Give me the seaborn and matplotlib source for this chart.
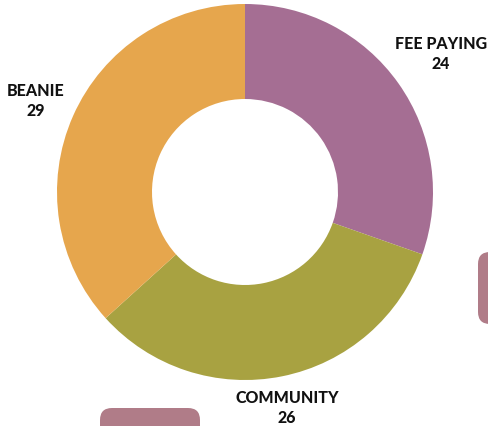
import matplotlib
matplotlib.use("Agg")
import matplotlib.pyplot as plt
from matplotlib.patches import FancyBboxPatch
import seaborn as sns

categories = ["FEE PAYING", "COMMUNITY", "BEANIE"]
values = [24, 26, 29]
colors = ["#A56E93", "#A8A241", "#E6A64D"]

sns.set_theme(style="white")
plt.rcParams['font.family'] = ['Lato', 'DejaVu Sans']

fig = plt.figure(figsize=(4.89, 4.27), dpi=100)
ax = fig.add_axes([0, 0, 1, 1])

# decorative rounded rectangles
for (x, y, w, h) in [(478, 102, 60, 72), (100, -40, 100, 58)]:
    ax.add_patch(FancyBboxPatch((x + 12, y + 12), w - 24, h - 24,
                                boxstyle="round,pad=12", fc="#B07C88", ec="none"))

ax.pie(values, colors=colors, startangle=90, counterclock=False,
       center=(245, 234), radius=188, frame=True,
       wedgeprops=dict(width=95, edgecolor="none"))
ax.set_xlim(0, 489)
ax.set_ylim(0, 427)
ax.set_aspect('equal')
ax.axis('off')

label_pos = {"FEE PAYING": (441, 373), "COMMUNITY": (287, 19), "BEANIE": (36, 326)}
for c, v in zip(categories, values):
    x, y = label_pos[c]
    ax.text(x, y, f"{c}\n{v}", ha="center", va="center", fontsize=11.5,
            fontweight="black", color="#111111", linespacing=1.35)

fig.savefig("out.png", dpi=100)
